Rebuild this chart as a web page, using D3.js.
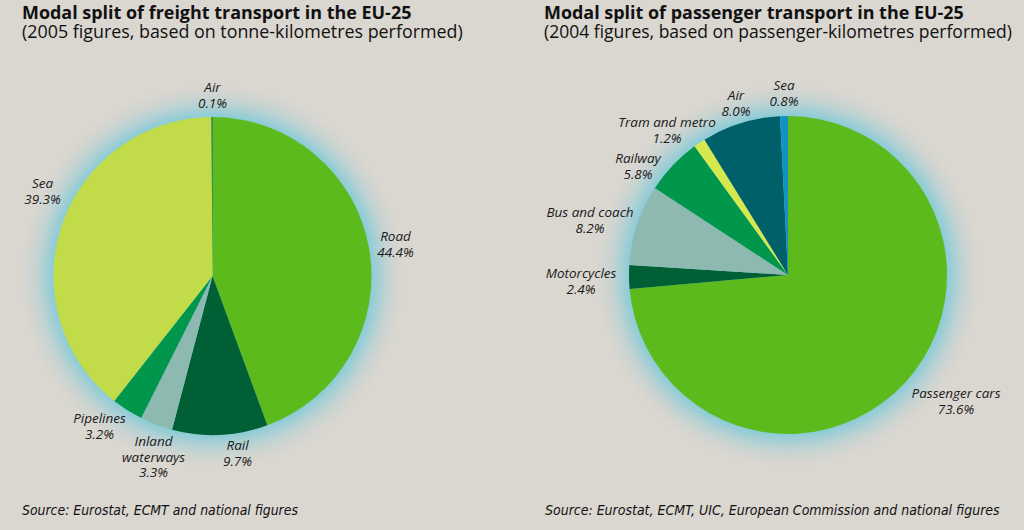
<!DOCTYPE html>
<html>
<head>
<meta charset="utf-8">
<script src="https://cdn.jsdelivr.net/npm/d3@7"></script>
<style>
  html, body { margin: 0; padding: 0; background: #dad6d0; }
  svg { display: block; }
</style>
</head>
<body>
<script>
// freight, 2005, tonne-km
const freightModes = ["Road", "Rail", "Inland waterways", "Pipelines", "Sea", "Air"];
const freightShares = [44.4, 9.7, 3.3, 3.2, 39.3, 0.1];
const freightColors = ["#5cba1d", "#005f35", "#8db9b1", "#00964b", "#c1dc48", "#005f35"];

// passenger, 2004, passenger-km
const passengerModes = ["Passenger cars", "Motorcycles", "Bus and coach", "Railway", "Tram and metro", "Air", "Sea"];
const passengerShares = [73.6, 2.4, 8.2, 5.8, 1.2, 8.0, 0.8];
const passengerColors = ["#5cba1d", "#005f35", "#8db9b1", "#00964b", "#d5e84c", "#00606a", "#1592c4"];

// label anchors relative to pie centre (first baseline, centred)
const freightLabelAt = [[183, -35], [25, 174], [-59, 170], [-113, 147], [-170, -88], [0, -184]];
const passengerLabelAt = [[168, 123], [-207, 3], [-198, -58], [-150, -112], [-121, -148], [-52, -175], [-4, -185]];

const width = 1024, height = 530;
const R = 159;

const svg = d3.select("body").append("svg")
    .attr("width", width)
    .attr("height", height)
    .attr("viewBox", [0, 0, width, height]);

svg.append("rect").attr("width", width).attr("height", height).attr("fill", "#dad6d0");

const defs = svg.append("defs");

function fitText(sel, target) {
    const fs = parseFloat(sel.attr("font-size"));
    const w = sel.node().getComputedTextLength();
    sel.attr("font-size", (fs * target / w).toFixed(2));
}

function header(x, title, sub, titleW, subW) {
    const t = svg.append("text")
        .attr("x", x).attr("y", 19)
        .attr("font-family", "'Open Sans', sans-serif")
        .attr("font-weight", 700)
        .attr("font-size", 16)
        .attr("fill", "#111")
        .text(title);
    fitText(t, titleW);
    const s = svg.append("text")
        .attr("x", x).attr("y", 38)
        .attr("font-family", "'Open Sans', sans-serif")
        .attr("font-size", 15)
        .attr("fill", "#111")
        .text(sub);
    fitText(s, subW);
}

function source(x, txt, w) {
    const s = svg.append("text")
        .attr("x", x).attr("y", 515)
        .attr("font-family", "'DejaVu Sans Condensed', 'Open Sans', sans-serif")
        .attr("font-style", "italic")
        .attr("font-size", 12)
        .attr("fill", "#111")
        .text(txt);
    fitText(s, w);
}

function pieChart(id, cx, cy, modes, shares, colors, labelAt) {
    const data = modes.map((m, i) => ({ mode: m, share: shares[i], color: colors[i], at: labelAt[i] }));

    // soft cyan halo round the pie
    const glowR = R + 32;
    const grad = defs.append("radialGradient")
        .attr("id", id + "-glow")
        .attr("gradientUnits", "userSpaceOnUse")
        .attr("cx", cx).attr("cy", cy).attr("r", glowR);
    const k = R / glowR;
    [[0, 0.9], [k - 0.01, 0.9], [k + 0.03, 0.62], [k + 0.07, 0.34], [k + 0.11, 0.14], [1, 0]].forEach(([o, a]) => {
        grad.append("stop")
            .attr("offset", Math.min(1, o))
            .attr("stop-color", "#7ccad8")
            .attr("stop-opacity", a);
    });

    svg.append("circle")
        .attr("cx", cx).attr("cy", cy)
        .attr("r", glowR)
        .attr("fill", `url(#${id}-glow)`);

    const g = svg.append("g").attr("transform", `translate(${cx},${cy})`);

    const pie = d3.pie().sort(null).value(d => d.share);
    const arc = d3.arc().innerRadius(0).outerRadius(R);

    g.selectAll("path")
        .data(pie(data))
        .join("path")
        .attr("fill", d => d.data.color)
        .attr("d", arc);

    const fmt = d3.format(".1f");
    const lab = g.selectAll("text.lab")
        .data(data)
        .join("text")
        .attr("class", "lab")
        .attr("text-anchor", "middle")
        .attr("font-family", "'Open Sans', sans-serif")
        .attr("font-style", "italic")
        .attr("font-size", 13.5)
        .attr("fill", "#1a1a1a")
        .attr("transform", d => `translate(${d.at})`);

    lab.each(function (d) {
        const lines = d.mode === "Inland waterways" ? ["Inland", "waterways"] : [d.mode];
        lines.push(fmt(d.share) + "%");
        d3.select(this).selectAll("tspan")
            .data(lines)
            .join("tspan")
            .attr("x", 0)
            .attr("dy", (l, i) => i ? 15.5 : 0)
            .text(l => l);
    });
}

header(22, "Modal split of freight transport in the EU-25",
    "(2005 figures, based on tonne-kilometres performed)", 390, 441);
header(544, "Modal split of passenger transport in the EU-25",
    "(2004 figures, based on passenger-kilometres performed)", 420, 468);

pieChart("fr", 212.5, 276, freightModes, freightShares, freightColors, freightLabelAt);
pieChart("pa", 788, 275, passengerModes, passengerShares, passengerColors, passengerLabelAt);

source(22, "Source: Eurostat, ECMT and national figures", 276);
source(545, "Source: Eurostat, ECMT, UIC, European Commission and national figures", 455);
</script>
</body>
</html>
